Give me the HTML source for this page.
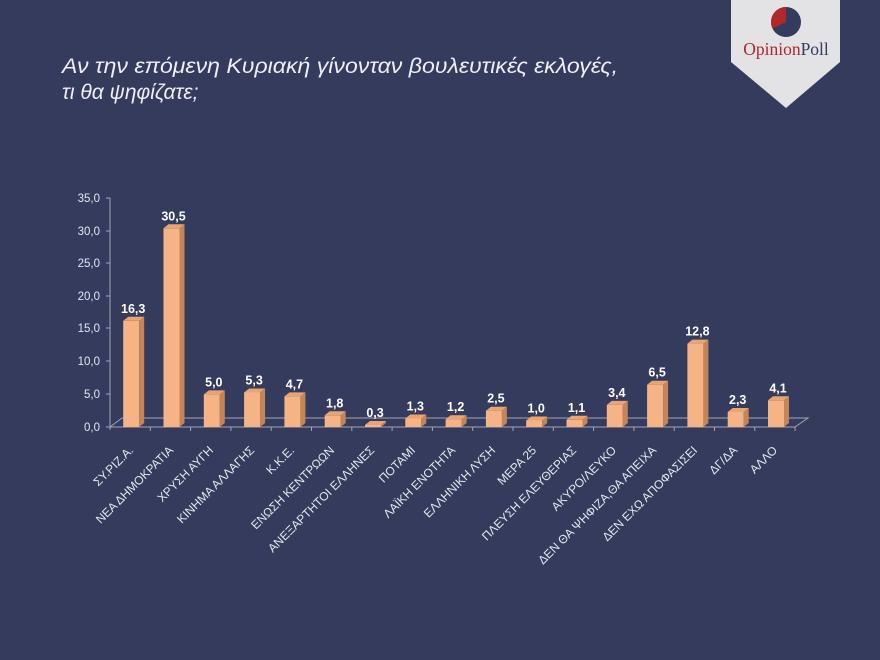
<!DOCTYPE html>
<html><head><meta charset="utf-8"><style>
html,body{margin:0;padding:0;background:#353b5d;}
svg{display:block;}
text{font-family:"Liberation Sans","DejaVu Sans",sans-serif;}
.yl{font-size:11.5px;fill:#e4e6ee;text-anchor:end;}
.vl{font-size:12.5px;font-weight:bold;fill:#ffffff;text-anchor:middle;}
.cl{font-size:12px;fill:#e4e6ee;text-anchor:end;}
.f{fill:#f6b385;}.s{fill:#c48558;}.t{fill:#e9a474;}
</style></head><body>
<svg width="880" height="660" viewBox="0 0 880 660" xmlns="http://www.w3.org/2000/svg">
<rect width="880" height="660" fill="#353b5d"/>
<text x="62" y="73" font-size="21" font-style="italic" fill="#eeeef4" textLength="556" lengthAdjust="spacingAndGlyphs">Αν την επόμενη Κυριακή γίνονταν βουλευτικές εκλογές,</text>
<text x="62" y="99" font-size="21" font-style="italic" fill="#eeeef4">τι θα ψηφίζατε;</text>
<polygon points="731,0 840,0 840,62 786,108 731,62" fill="#e3e3e5"/>
<circle cx="786" cy="22" r="15" fill="#353b5d"/>
<path d="M786,22 L786,7 A15,15 0 0,0 772.5,28.5 Z" fill="#b0282a"/>
<text x="786" y="55" font-size="17.5" text-anchor="middle" style="font-family:'Liberation Serif','DejaVu Serif',serif"><tspan fill="#b0282a">Opinion</tspan><tspan fill="#353b5d">Poll</tspan></text>
<g stroke="#a3a5b5" stroke-width="1" fill="none">
<line x1="110" y1="198" x2="110" y2="430"/>
<polyline points="110,427 795,427 808,418 122,418 110,427"/>
<line x1="106" y1="198" x2="110" y2="198"/><line x1="106" y1="231" x2="110" y2="231"/><line x1="106" y1="263" x2="110" y2="263"/><line x1="106" y1="296" x2="110" y2="296"/><line x1="106" y1="328" x2="110" y2="328"/><line x1="106" y1="361" x2="110" y2="361"/><line x1="106" y1="394" x2="110" y2="394"/><line x1="106" y1="427" x2="110" y2="427"/>
<line x1="150.3" y1="427" x2="150.3" y2="431"/><line x1="190.6" y1="427" x2="190.6" y2="431"/><line x1="230.9" y1="427" x2="230.9" y2="431"/><line x1="271.2" y1="427" x2="271.2" y2="431"/><line x1="311.5" y1="427" x2="311.5" y2="431"/><line x1="351.8" y1="427" x2="351.8" y2="431"/><line x1="392.1" y1="427" x2="392.1" y2="431"/><line x1="432.4" y1="427" x2="432.4" y2="431"/><line x1="472.7" y1="427" x2="472.7" y2="431"/><line x1="513" y1="427" x2="513" y2="431"/><line x1="553.3" y1="427" x2="553.3" y2="431"/><line x1="593.6" y1="427" x2="593.6" y2="431"/><line x1="633.9" y1="427" x2="633.9" y2="431"/><line x1="674.2" y1="427" x2="674.2" y2="431"/><line x1="714.5" y1="427" x2="714.5" y2="431"/><line x1="754.8" y1="427" x2="754.8" y2="431"/><line x1="795" y1="427" x2="795" y2="431"/>
</g>
<text class="yl" x="100" y="202">35,0</text>
<text class="yl" x="100" y="235">30,0</text>
<text class="yl" x="100" y="267">25,0</text>
<text class="yl" x="100" y="300">20,0</text>
<text class="yl" x="100" y="332">15,0</text>
<text class="yl" x="100" y="365">10,0</text>
<text class="yl" x="100" y="398">5,0</text>
<text class="yl" x="100" y="431">0,0</text>
<g transform="translate(130.2,320.8)"><rect class="f" x="-7" y="0" width="16" height="106.2"/><polygon class="s" points="9,0 14,-4 14,102.2 9,106.2"/><polygon class="t" points="-7,0 -2,-4 14,-4 9,0"/><text class="vl" x="3" y="-8">16,3</text></g>
<g transform="translate(170.5,228.3)"><rect class="f" x="-7" y="0" width="16" height="198.7"/><polygon class="s" points="9,0 14,-4 14,194.7 9,198.7"/><polygon class="t" points="-7,0 -2,-4 14,-4 9,0"/><text class="vl" x="3" y="-8">30,5</text></g>
<g transform="translate(210.8,394.4)"><rect class="f" x="-7" y="0" width="16" height="32.6"/><polygon class="s" points="9,0 14,-4 14,28.6 9,32.6"/><polygon class="t" points="-7,0 -2,-4 14,-4 9,0"/><text class="vl" x="3" y="-8">5,0</text></g>
<g transform="translate(251.1,392.5)"><rect class="f" x="-7" y="0" width="16" height="34.5"/><polygon class="s" points="9,0 14,-4 14,30.5 9,34.5"/><polygon class="t" points="-7,0 -2,-4 14,-4 9,0"/><text class="vl" x="3" y="-8">5,3</text></g>
<g transform="translate(291.4,396.4)"><rect class="f" x="-7" y="0" width="16" height="30.6"/><polygon class="s" points="9,0 14,-4 14,26.6 9,30.6"/><polygon class="t" points="-7,0 -2,-4 14,-4 9,0"/><text class="vl" x="3" y="-8">4,7</text></g>
<g transform="translate(331.7,415.3)"><rect class="f" x="-7" y="0" width="16" height="11.7"/><polygon class="s" points="9,0 14,-4 14,7.7 9,11.7"/><polygon class="t" points="-7,0 -2,-4 14,-4 9,0"/><text class="vl" x="3" y="-8">1,8</text></g>
<g transform="translate(372,425)"><rect class="f" x="-7" y="0" width="16" height="2"/><polygon class="s" points="9,0 14,-4 14,-2 9,2"/><polygon class="t" points="-7,0 -2,-4 14,-4 9,0"/><text class="vl" x="3" y="-8">0,3</text></g>
<g transform="translate(412.3,418.5)"><rect class="f" x="-7" y="0" width="16" height="8.5"/><polygon class="s" points="9,0 14,-4 14,4.5 9,8.5"/><polygon class="t" points="-7,0 -2,-4 14,-4 9,0"/><text class="vl" x="3" y="-8">1,3</text></g>
<g transform="translate(452.6,419.2)"><rect class="f" x="-7" y="0" width="16" height="7.8"/><polygon class="s" points="9,0 14,-4 14,3.8 9,7.8"/><polygon class="t" points="-7,0 -2,-4 14,-4 9,0"/><text class="vl" x="3" y="-8">1,2</text></g>
<g transform="translate(492.9,410.7)"><rect class="f" x="-7" y="0" width="16" height="16.3"/><polygon class="s" points="9,0 14,-4 14,12.3 9,16.3"/><polygon class="t" points="-7,0 -2,-4 14,-4 9,0"/><text class="vl" x="3" y="-8">2,5</text></g>
<g transform="translate(533.2,420.5)"><rect class="f" x="-7" y="0" width="16" height="6.5"/><polygon class="s" points="9,0 14,-4 14,2.5 9,6.5"/><polygon class="t" points="-7,0 -2,-4 14,-4 9,0"/><text class="vl" x="3" y="-8">1,0</text></g>
<g transform="translate(573.5,419.8)"><rect class="f" x="-7" y="0" width="16" height="7.2"/><polygon class="s" points="9,0 14,-4 14,3.2 9,7.2"/><polygon class="t" points="-7,0 -2,-4 14,-4 9,0"/><text class="vl" x="3" y="-8">1,1</text></g>
<g transform="translate(613.8,404.9)"><rect class="f" x="-7" y="0" width="16" height="22.1"/><polygon class="s" points="9,0 14,-4 14,18.1 9,22.1"/><polygon class="t" points="-7,0 -2,-4 14,-4 9,0"/><text class="vl" x="3" y="-8">3,4</text></g>
<g transform="translate(654.1,384.7)"><rect class="f" x="-7" y="0" width="16" height="42.3"/><polygon class="s" points="9,0 14,-4 14,38.3 9,42.3"/><polygon class="t" points="-7,0 -2,-4 14,-4 9,0"/><text class="vl" x="3" y="-8">6,5</text></g>
<g transform="translate(694.4,343.6)"><rect class="f" x="-7" y="0" width="16" height="83.4"/><polygon class="s" points="9,0 14,-4 14,79.4 9,83.4"/><polygon class="t" points="-7,0 -2,-4 14,-4 9,0"/><text class="vl" x="3" y="-8">12,8</text></g>
<g transform="translate(734.7,412)"><rect class="f" x="-7" y="0" width="16" height="15"/><polygon class="s" points="9,0 14,-4 14,11 9,15"/><polygon class="t" points="-7,0 -2,-4 14,-4 9,0"/><text class="vl" x="3" y="-8">2,3</text></g>
<g transform="translate(775,400.3)"><rect class="f" x="-7" y="0" width="16" height="26.7"/><polygon class="s" points="9,0 14,-4 14,22.7 9,26.7"/><polygon class="t" points="-7,0 -2,-4 14,-4 9,0"/><text class="vl" x="3" y="-8">4,1</text></g>
<text class="cl" transform="translate(134,451) rotate(-45)">ΣΥ.ΡΙΖ.Α.</text>
<text class="cl" transform="translate(174,451) rotate(-45)">ΝΕΑ ΔΗΜΟΚΡΑΤΙΑ</text>
<text class="cl" transform="translate(214,451) rotate(-45)">ΧΡΥΣΗ ΑΥΓΗ</text>
<text class="cl" transform="translate(255,451) rotate(-45)">ΚΙΝΗΜΑ ΑΛΛΑΓΗΣ</text>
<text class="cl" transform="translate(295,451) rotate(-45)">Κ.Κ.Ε.</text>
<text class="cl" transform="translate(335,451) rotate(-45)">ΕΝΩΣΗ ΚΕΝΤΡΩΩΝ</text>
<text class="cl" transform="translate(375,451) rotate(-45)">ΑΝΕΞΑΡΤΗΤΟΙ ΕΛΛΗΝΕΣ</text>
<text class="cl" transform="translate(416,451) rotate(-45)">ΠΟΤΑΜΙ</text>
<text class="cl" transform="translate(456,451) rotate(-45)">ΛΑΪΚΗ ΕΝΟΤΗΤΑ</text>
<text class="cl" transform="translate(496,451) rotate(-45)">ΕΛΛΗΝΙΚΗ ΛΥΣΗ</text>
<text class="cl" transform="translate(537,451) rotate(-45)">ΜΕΡΑ 25</text>
<text class="cl" transform="translate(577,451) rotate(-45)">ΠΛΕΥΣΗ ΕΛΕΥΘΕΡΙΑΣ</text>
<text class="cl" transform="translate(617,451) rotate(-45)">ΑΚΥΡΟ/ΛΕΥΚΟ</text>
<text class="cl" transform="translate(657,451) rotate(-45)">ΔΕΝ ΘΑ ΨΗΦΙΖΑ,ΘΑ ΑΠΕΙΧΑ</text>
<text class="cl" transform="translate(698,451) rotate(-45)">ΔΕΝ ΕΧΩ ΑΠΟΦΑΣΙΣΕΙ</text>
<text class="cl" transform="translate(738,451) rotate(-45)">ΔΓ/ΔΑ</text>
<text class="cl" transform="translate(778,451) rotate(-45)">ΑΛΛΟ</text>
</svg>
</body></html>
